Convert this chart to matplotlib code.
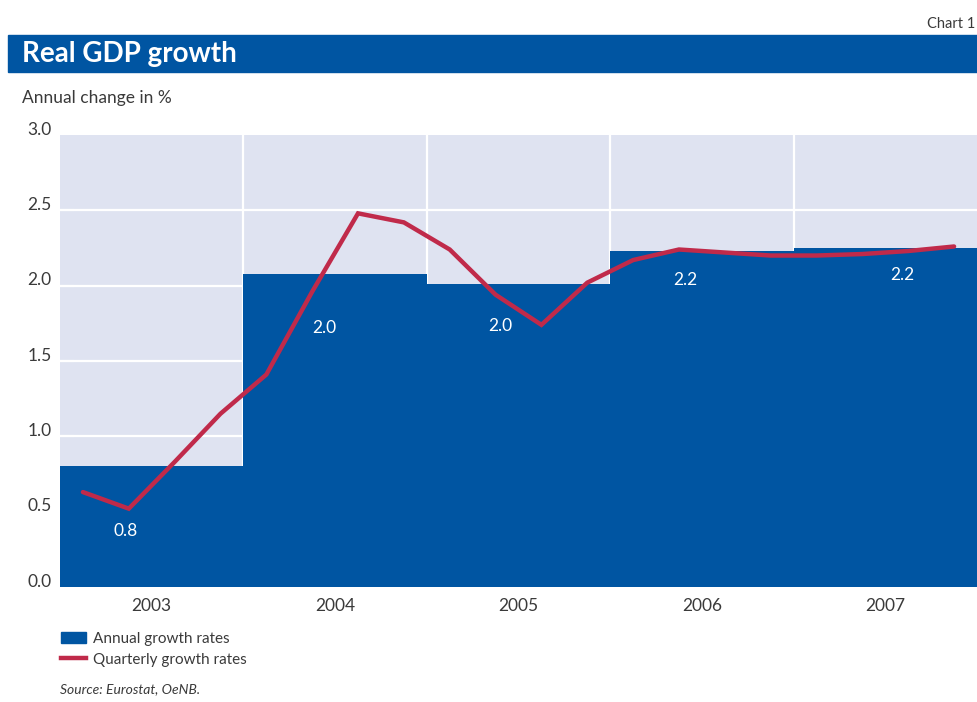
import matplotlib
matplotlib.use("Agg")
import matplotlib.pyplot as plt
from matplotlib.patches import Rectangle
from matplotlib.lines import Line2D
from matplotlib.transforms import ScaledTranslation

# データ
years = ["2003", "2004", "2005", "2006", "2007"]
annual = [0.80, 2.08, 2.01, 2.23, 2.25]
annual_labels = ["0.8", "2.0", "2.0", "2.2", "2.2"]
quarterly = [0.63, 0.52, 0.83, 1.15,
             1.41, 1.96, 2.48, 2.42,
             2.24, 1.94, 1.74, 2.02,
             2.17, 2.24, 2.22, 2.20,
             2.20, 2.21, 2.23, 2.26]

# ラベルの位置（データ座標）
label_pos = [(0.36, 0.37), (1.44, 1.72), (2.40, 1.73), (3.41, 2.04), (4.59, 2.07)]

BLUE = "#0055a2"
RED = "#c02a4a"
BG = "#dfe3f1"
GREY = "#3a3a3a"

plt.rcParams["font.family"] = ["Lato", "DejaVu Sans"]

fig = plt.figure(figsize=(9.77, 7.02), dpi=100)
W, H = 977, 702


def fx(px):
    return px / W


def fy(py):
    return 1 - py / H


# タイトルバー
fig.patches.append(Rectangle((fx(8), fy(72)), fx(977 - 8), (72 - 35) / H,
                             transform=fig.transFigure, color=BLUE, zorder=0))
fig.text(fx(22), fy(54), "Real GDP growth", color="white", fontsize=20,
         fontweight="bold", va="center", ha="left")
fig.text(fx(975), fy(24), "Chart 1", color=GREY, fontsize=10.5,
         va="center", ha="right")
fig.text(fx(22), fy(98), "Annual change in %", color=GREY, fontsize=12.5,
         va="center", ha="left")

ax = fig.add_axes([fx(60), fy(587), fx(977 - 60), (587 - 135) / H])
ax.set_facecolor(BG)
for s in ax.spines.values():
    s.set_visible(False)

# 棒グラフ（年次）
xs = list(range(len(years)))
ax.bar(xs, annual, width=1.0, align="edge", color=BLUE, zorder=2, linewidth=0)

# 折れ線（四半期）
qx = [i / 4 + 0.125 for i in range(len(quarterly))]
ax.plot(qx, quarterly, color=RED, lw=3.2, zorder=4, solid_capstyle="round",
        solid_joinstyle="miter")

for (lx, ly), t in zip(label_pos, annual_labels):
    ax.text(lx, ly, t, color="white", fontsize=12.5,
            ha="center", va="center", zorder=5)

ax.set_xlim(0, 5)
ax.set_ylim(0, 3.0)

ax.set_yticks([0, 0.5, 1.0, 1.5, 2.0, 2.5, 3.0])
ax.set_yticklabels(["0.0", "0.5", "1.0", "1.5", "2.0", "2.5", "3.0"])
ax.set_xticks([0.5, 1.5, 2.5, 3.5, 4.5])
ax.set_xticklabels(years)
ax.set_xticks([1, 2, 3, 4], minor=True)

ax.tick_params(axis="x", which="major", length=0, pad=8, labelsize=12.5,
               labelcolor=GREY)
ax.tick_params(axis="x", which="minor", length=10, width=1.5, direction="in",
               color="white")
ax.tick_params(axis="y", length=10, width=1.5, direction="in", color="white",
               pad=6, labelsize=12.5, labelcolor=GREY)
ax.yaxis.get_major_ticks()[-1].tick1line.set_visible(False)
for lab in ax.get_yticklabels():
    lab.set_transform(lab.get_transform() + ScaledTranslation(0, 5 / 72, fig.dpi_scale_trans))

# グリッド
for yv in [0.5, 1.0, 1.5, 2.0, 2.5]:
    ax.axhline(yv, color="white", lw=1.6, zorder=1)
for xv in [1, 2, 3, 4]:
    ax.axvline(xv, color="white", lw=1.6, zorder=1)

# 凡例
handles = [Rectangle((0, 0), 1, 1, color=BLUE),
           Line2D([], [], color=RED, lw=3.2)]
leg = fig.legend(handles, ["Annual growth rates", "Quarterly growth rates"],
                 loc="upper left", bbox_to_anchor=(fx(47), fy(618)), frameon=False,
                 handlelength=1.65, handleheight=0.7,
                 handletextpad=0.45, labelspacing=0.45, labelcolor=GREY,
                 prop={"size": 11})

fig.text(fx(60), fy(689), "Source: Eurostat, OeNB.", color=GREY, fontsize=10,
         fontstyle="italic", va="center", ha="left")

fig.savefig("out.png", dpi=100)
